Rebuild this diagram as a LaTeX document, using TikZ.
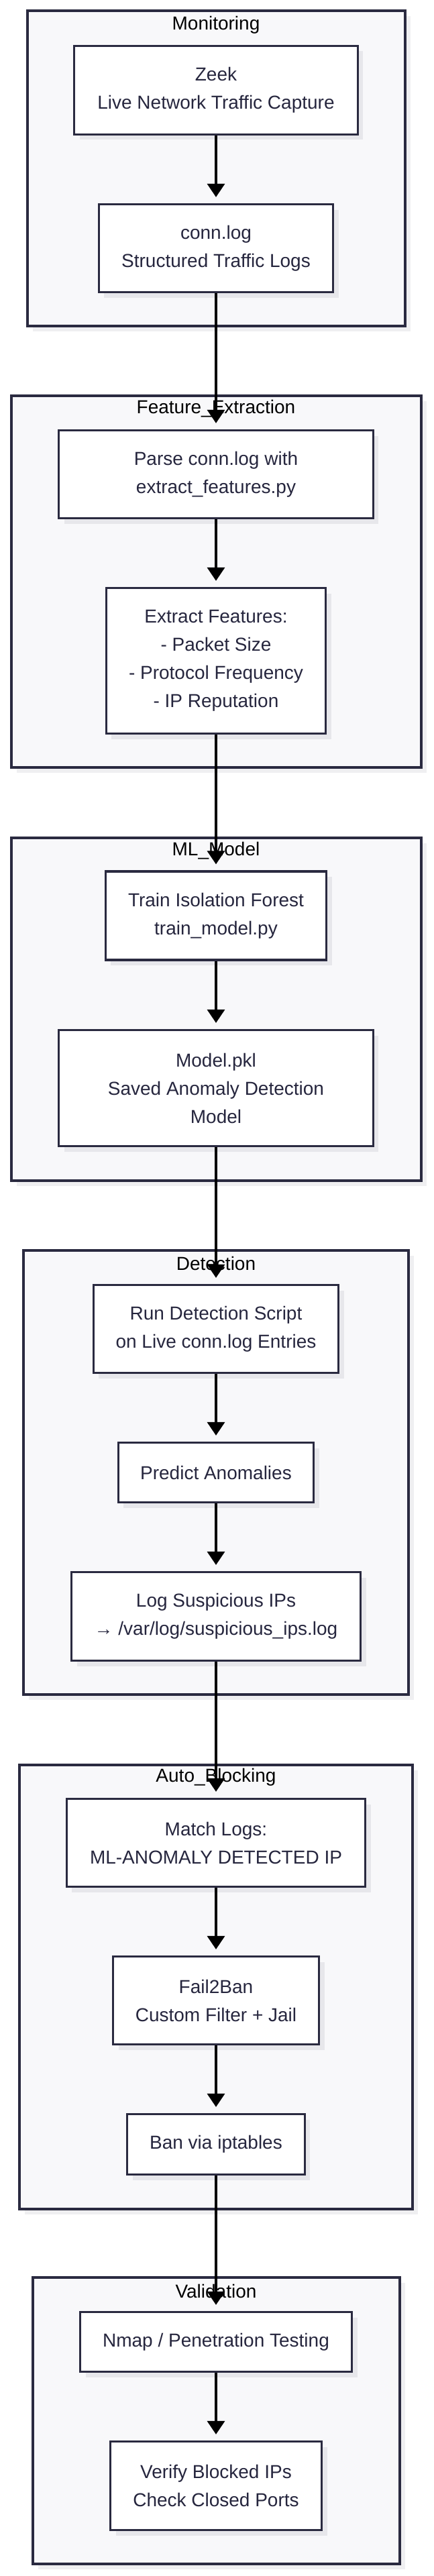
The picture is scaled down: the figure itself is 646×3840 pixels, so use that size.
\documentclass[tikz,border=0pt]{standalone}
\usepackage{fontspec}
\setmainfont{Liberation Sans}
\usetikzlibrary{arrows.meta,shadows}
\definecolor{framefill}{HTML}{F8F8FA}
\definecolor{edgec}{HTML}{2A2A40}
\definecolor{txtc}{HTML}{26263E}
\definecolor{shadec}{HTML}{E7E7EB}
\definecolor{fshadec}{HTML}{EFEFF1}
\begin{document}
\begin{tikzpicture}[x=1pt,y=-1pt,
  shd/.style={drop shadow={shadow xshift=8pt,shadow yshift=-8pt,fill=#1,opacity=1}},
  proc/.style={draw=edgec,line width=3.3pt,fill=white,text=txtc,align=center,inner sep=0pt,
    font=\fontsize{28pt}{42pt}\selectfont,shd=shadec},
  grp/.style={draw=edgec,line width=4pt,fill=framefill,inner sep=0pt,shd=fshadec},
  grptitle/.style={text=black,inner sep=0pt,font=\fontsize{28pt}{34pt}\selectfont},
  flow/.style={draw=black,line width=3.5pt,-{Triangle[length=20pt,width=26pt]},shorten >=9pt}]
\useasboundingbox (0,0) rectangle (646,3840);
\fill[white] (0,0) rectangle (646,3840);
% clusters
\node[grp,minimum width=563pt,minimum height=469pt] (gmon) at (322,251) {};
\node[grptitle] (tmon) at (322,37) {Monitoring};
\node[grp,minimum width=611pt,minimum height=554pt] (gfeat) at (322,866.5) {};
\node[grptitle] (tfeat) at (322,609) {Feature\_Extraction};
\node[grp,minimum width=611pt,minimum height=511pt] (gml) at (322,1504) {};
\node[grptitle] (tml) at (322,1268) {ML\_Model};
\node[grp,minimum width=574pt,minimum height=662pt] (gdet) at (322,2194.5) {};
\node[grptitle] (tdet) at (322,1883) {Detection};
\node[grp,minimum width=586pt,minimum height=662pt] (gauto) at (322,2961.5) {};
\node[grptitle] (tauto) at (322,2649) {Auto\_Blocking};
\node[grp,minimum width=547pt,minimum height=427pt] (gval) at (322,3608) {};
\node[grptitle] (tval) at (322,3415) {Validation};
% nodes
\node[proc,minimum width=422.5pt,minimum height=132pt] (zeek) at (322,134.5) {Zeek\\Live Network Traffic Capture};
\node[proc,minimum width=349.5pt,minimum height=131pt] (conn) at (322,370) {conn.log\\Structured Traffic Logs};
\node[proc,minimum width=468.5pt,minimum height=131pt] (parse) at (322,707) {Parse conn.log with\\extract\_features.py};
\node[proc,minimum width=327.5pt,minimum height=217pt] (extract) at (322,985) {Extract Features:\\- Packet Size\\- Protocol Frequency\\- IP Reputation};
\node[proc,minimum width=329.5pt,minimum height=132pt] (train) at (322,1365) {Train Isolation Forest\\train\_model.py};
\node[proc,minimum width=468.5pt,minimum height=173pt] (model) at (322,1622) {Model.pkl\\Saved Anomaly Detection\\Model};
\node[proc,minimum width=365.5pt,minimum height=131pt] (run) at (322,1981) {Run Detection Script\\on Live conn.log Entries};
\node[proc,minimum width=291.5pt,minimum height=89pt] (predict) at (322,2195) {Predict Anomalies};
\node[proc,minimum width=431pt,minimum height=132pt] (logips) at (322,2409.5) {Log Suspicious IPs\\→ /var/log/suspicious\_ips.log};
\node[proc,minimum width=445.5pt,minimum height=131pt] (match) at (322,2747) {Match Logs:\\ML-ANOMALY DETECTED IP};
\node[proc,minimum width=307pt,minimum height=131pt] (f2b) at (322,2982) {Fail2Ban\\Custom Filter + Jail};
\node[proc,minimum width=264.5pt,minimum height=90pt] (ban) at (322,3196.5) {Ban via iptables};
\node[proc,minimum width=405pt,minimum height=89pt] (nmap) at (322,3491) {Nmap / Penetration Testing};
\node[proc,minimum width=315pt,minimum height=132pt] (verify) at (322,3705.5) {Verify Blocked IPs\\Check Closed Ports};
% connectors
\draw[flow] (zeek.south) -- (conn.north);
\draw[flow] (conn.south) -- (parse.north);
\draw[flow] (parse.south) -- (extract.north);
\draw[flow] (extract.south) -- (train.north);
\draw[flow] (train.south) -- (model.north);
\draw[flow] (model.south) -- (run.north);
\draw[flow] (run.south) -- (predict.north);
\draw[flow] (predict.south) -- (logips.north);
\draw[flow] (logips.south) -- (match.north);
\draw[flow] (match.south) -- (f2b.north);
\draw[flow] (f2b.south) -- (ban.north);
\draw[flow] (ban.south) -- (nmap.north);
\draw[flow] (nmap.south) -- (verify.north);
\end{tikzpicture}
\end{document}
